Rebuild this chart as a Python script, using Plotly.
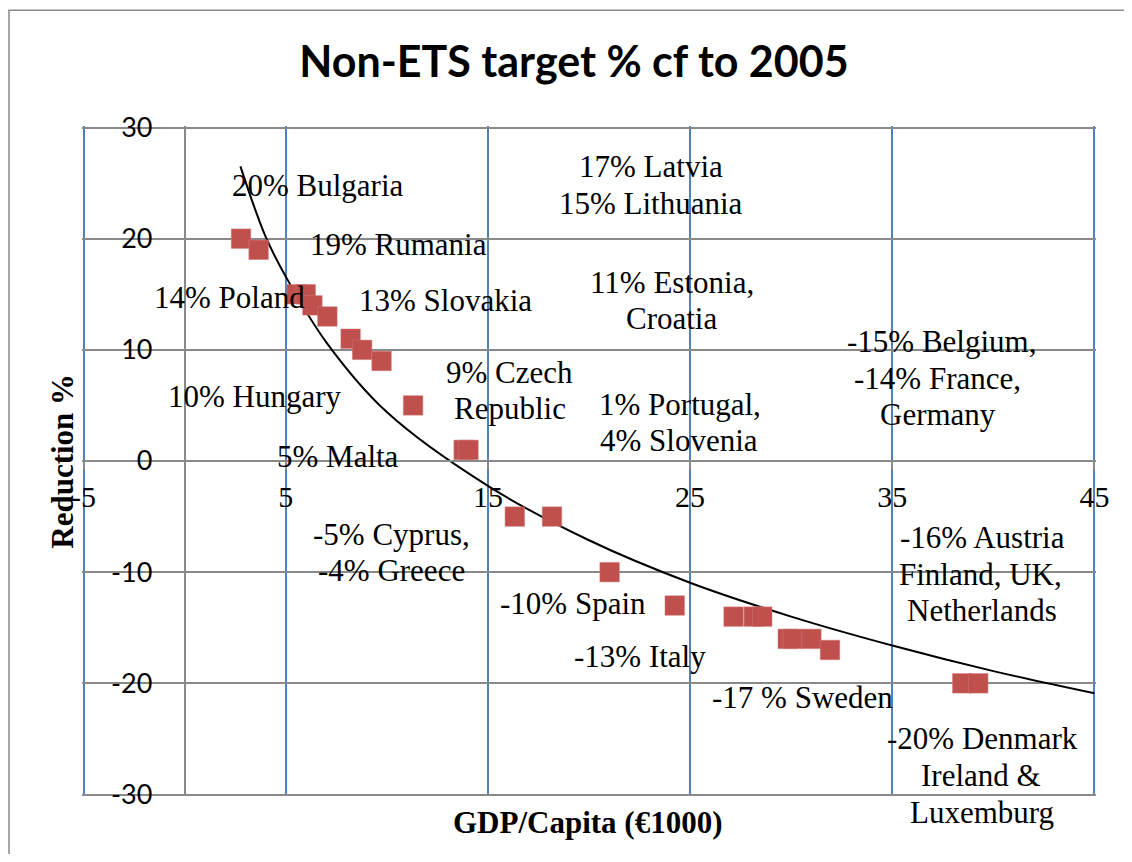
import plotly.graph_objects as go

# ---- data ----
gdp_per_capita = [2.79, 3.66, 5.54, 5.99, 6.32, 7.06, 8.21, 8.78, 9.74, 11.30, 13.80, 14.04,
                  16.33, 18.17, 21.02, 24.24, 27.15, 28.15, 28.57, 29.83, 30.08, 31.00, 31.92,
                  38.46, 39.25]
reduction = [20, 19, 15, 15, 14, 13, 11, 10, 9, 5, 1, 1,
             -5, -5, -10, -13, -14, -14, -14, -16, -16, -16, -17,
             -20, -20]

# trend line, points
trend_x = [2.76, 4, 5, 7, 10, 15, 20, 25, 30, 35, 40, 45]
trend_y = [26.5, 20.2, 16.6, 10.7, 4.4, -2.24, -7.13, -10.95, -14.0, -16.6, -18.9, -20.9]

x_ticks = [-5, 5, 15, 25, 35, 45]
x_tick_labels = ["-5", "5", "15", "25", "35", "45"]
y_ticks = [-30, -20, -10, 0, 10, 20, 30]
y_tick_labels = ["-30", "-20", "-10", "0", "10", "20", "30"]

label_texts = ["20% Bulgaria", "19% Rumania", "14% Poland", "13% Slovakia", "10% Hungary",
               "9% Czech", "Republic", "5% Malta", "17% Latvia", "15% Lithuania",
               "11% Estonia,", "Croatia", "1% Portugal,", "4% Slovenia",
               "-15% Belgium,", "-14% France,", "Germany", "-5% Cyprus,", "-4% Greece",
               "-10% Spain", "-13% Italy", "-17 % Sweden",
               "-16% Austria", "Finland, UK,", "Netherlands",
               "-20% Denmark", "Ireland &", "Luxemburg"]
label_x = [6.60, 10.57, 2.21, 12.89, 3.47, 16.06, 16.08, 7.59, 23.08, 23.06,
           24.09, 24.07, 24.51, 24.44, 37.44, 37.24, 37.24, 10.23, 10.23,
           19.21, 22.51, 30.55, 39.48, 39.36, 39.46, 39.46, 39.41, 39.46]
label_y = [24.77, 19.49, 14.75, 14.48, 5.79, 7.94, 4.72, 0.42, 26.47, 23.16,
           16.09, 12.78, 5.08, 1.85, 10.72, 7.40, 4.18, -6.65, -9.87,
           -12.83, -17.58, -21.25, -6.92, -10.23, -13.46, -25.0, -28.32, -31.63]

# ranges padded ~1.5px so plotly draws the gridlines at the plot edges
X_MIN, X_MAX = -5.075, 45.075
Y_MIN, Y_MAX = -30.135, 30.135

GREY = "#898989"
BLUE = "#4F81BD"
SERIF = "Liberation Serif, Times New Roman, serif"
SANS = "Lato, Calibri, sans-serif"

fig = go.Figure()

fig.add_trace(go.Scatter(
    x=trend_x, y=trend_y, mode="lines", line=dict(color="black", width=2, shape="spline"),
    hoverinfo="skip"))

fig.add_trace(go.Scatter(
    x=gdp_per_capita, y=reduction, mode="markers",
    marker=dict(symbol="square", size=19.5, color="#C0504D", line=dict(width=0.5, color="#D07A78"))))

for t, xv, yv in zip(label_texts, label_x, label_y):
    fig.add_annotation(x=xv, y=(yv - Y_MIN) / (Y_MAX - Y_MIN), xref="x", yref="paper",
                       text=t, showarrow=False, xanchor="center", yanchor="middle",
                       font=dict(family=SERIF, size=31, color="black"))

fig.add_annotation(x=-0.02, y=0.5, xref="paper", yref="paper", text="<b>Reduction %</b>",
                   textangle=-90, showarrow=False, xanchor="center", yanchor="middle",
                   font=dict(family=SERIF, size=31, color="black"))
fig.add_annotation(x=0.499, y=-0.039, xref="paper", yref="paper", text="<b>GDP/Capita (€1000)</b>",
                   showarrow=False, xanchor="center", yanchor="middle",
                   font=dict(family=SERIF, size=31, color="black"))

# page body adds an 8px margin on every side; keep the figure inside the window
W, H = 1116, 846
ML, MR, MT, MB = 74, 28, 118, 58
PW = W - ML - MR

# outer chart border: only its left and top edges fall inside the picture
bx0 = (-ML + 1) / PW
fig.add_shape(type="path", xref="paper", yref="paper",
              path=f"M {bx0},-0.3 L {bx0},1.1726 L 1.3,1.1726",
              line=dict(color=GREY, width=1.5))

fig.update_layout(
    width=W, height=H,
    margin=dict(l=ML, r=MR, t=MT, b=MB),
    plot_bgcolor="white", paper_bgcolor="white",
    showlegend=False,
    title=dict(text="<b>Non-ETS target % cf to 2005</b>", x=566 / W, xref="container",
               xanchor="center", y=1 - 54 / H, yref="container", yanchor="middle",
               font=dict(family=SANS, size=43, color="black")),
    xaxis=dict(range=[X_MIN, X_MAX], tickmode="array", tickvals=x_ticks, ticktext=x_tick_labels,
               showgrid=True, gridcolor=BLUE, gridwidth=1.5, zeroline=False,
               showline=True, linecolor=GREY, linewidth=1.5,
               anchor="free", position=(0 - Y_MIN) / (Y_MAX - Y_MIN),
               ticks="outside", ticklen=8, tickwidth=1.5, tickcolor=GREY,
               ticklabelstandoff=1,
               tickfont=dict(family=SERIF, size=30, color="black")),
    yaxis=dict(range=[Y_MIN, Y_MAX], tickmode="array", tickvals=y_ticks, ticktext=y_tick_labels,
               showgrid=True, gridcolor=GREY, gridwidth=1.5, zeroline=False,
               showline=True, linecolor=GREY, linewidth=1.5,
               anchor="free", position=(0 - X_MIN) / (X_MAX - X_MIN),
               ticks="outside", ticklen=10, tickwidth=1.5, tickcolor=GREY,
               ticklabelstandoff=16,
               tickfont=dict(family=SANS, size=27, color="black")),
)

fig.write_html("out.html")
